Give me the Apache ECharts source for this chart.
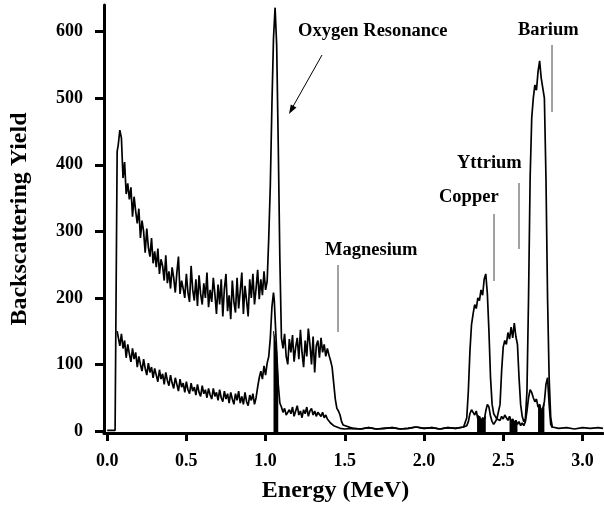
<!DOCTYPE html>
<html>
<head>
    <meta charset="utf-8">
    <title>Backscattering spectrum</title>
    <script src="https://cdn.jsdelivr.net/npm/echarts@6/dist/echarts.min.js"></script>
    <style>
        html, body { margin: 0; padding: 0; background: #fff; }
        #main { width: 604px; height: 512px; }
    </style>
</head>
<body>
<div id="main"></div>
<script>
    // [energy (MeV), yield]
    var upperSpectrum = [
        [0.00, 1], [0.05, 1], [0.06, 3], [0.063, 420], [0.07, 430], [0.08, 452], [0.09, 440],
        [0.10, 380], [0.11, 404], [0.12, 356], [0.13, 372], [0.14, 348], [0.15, 366], [0.16, 322],
        [0.17, 352], [0.18, 330], [0.19, 312], [0.20, 334], [0.21, 290], [0.22, 316], [0.23, 300],
        [0.24, 268], [0.25, 304], [0.26, 276], [0.27, 262], [0.28, 290], [0.29, 252], [0.30, 270],
        [0.31, 246], [0.32, 274], [0.33, 236], [0.34, 258], [0.35, 248], [0.36, 226], [0.37, 264],
        [0.38, 222], [0.39, 240], [0.40, 214], [0.41, 246], [0.42, 230], [0.43, 208], [0.44, 238],
        [0.45, 262], [0.46, 206], [0.47, 226], [0.48, 214], [0.49, 200], [0.50, 236], [0.51, 208],
        [0.52, 194], [0.53, 248], [0.54, 212], [0.55, 196], [0.56, 228], [0.57, 188], [0.58, 234],
        [0.59, 206], [0.60, 190], [0.61, 222], [0.62, 200], [0.63, 238], [0.64, 186], [0.65, 212],
        [0.66, 194], [0.67, 230], [0.68, 206], [0.69, 176], [0.70, 220], [0.71, 190], [0.72, 228],
        [0.73, 172], [0.74, 214], [0.75, 236], [0.76, 180], [0.77, 204], [0.78, 168], [0.79, 226],
        [0.80, 194], [0.81, 178], [0.82, 230], [0.83, 184], [0.84, 210], [0.85, 238], [0.86, 176],
        [0.87, 218], [0.88, 196], [0.89, 172], [0.90, 228], [0.91, 200], [0.92, 236], [0.93, 190],
        [0.94, 214], [0.95, 242], [0.96, 198], [0.97, 228], [0.98, 204], [0.99, 240], [1.00, 212],
        [1.01, 225], [1.02, 290], [1.03, 370], [1.04, 490], [1.05, 590], [1.06, 636], [1.07, 580],
        [1.08, 430], [1.09, 260], [1.10, 140], [1.11, 124], [1.12, 146], [1.13, 112], [1.14, 100],
        [1.15, 138], [1.16, 118], [1.17, 144], [1.18, 104], [1.19, 126], [1.20, 140], [1.21, 108],
        [1.22, 152], [1.23, 118], [1.24, 96], [1.25, 136], [1.26, 112], [1.27, 154], [1.28, 130],
        [1.29, 100], [1.30, 142], [1.31, 88], [1.32, 128], [1.33, 136], [1.34, 110], [1.35, 140],
        [1.36, 118], [1.37, 130], [1.38, 112], [1.39, 124], [1.40, 114], [1.41, 106], [1.42, 96],
        [1.43, 72], [1.44, 48], [1.45, 34], [1.46, 30], [1.47, 24], [1.48, 14], [1.49, 9], [1.50, 6],
        [1.55, 4], [1.60, 3], [1.65, 5], [1.70, 3], [1.75, 4], [1.80, 5], [1.85, 3], [1.90, 4],
        [1.95, 6], [2.00, 4], [2.05, 5], [2.10, 3], [2.15, 5], [2.20, 4], [2.25, 6],
        [2.26, 8], [2.27, 20], [2.28, 60], [2.29, 120], [2.30, 160], [2.31, 176], [2.32, 190],
        [2.33, 184], [2.34, 200], [2.35, 196], [2.36, 212], [2.37, 204], [2.38, 228], [2.39, 236],
        [2.40, 206], [2.41, 150], [2.42, 80], [2.43, 40], [2.44, 26], [2.45, 22], [2.46, 18],
        [2.47, 20], [2.48, 40], [2.49, 90], [2.50, 126], [2.51, 136], [2.52, 130], [2.53, 148],
        [2.54, 138], [2.55, 156], [2.56, 140], [2.57, 162], [2.58, 142], [2.59, 130], [2.60, 80],
        [2.61, 40], [2.62, 22], [2.63, 14], [2.64, 18], [2.65, 60], [2.66, 200], [2.67, 380],
        [2.68, 470], [2.69, 500], [2.70, 520], [2.71, 512], [2.72, 540], [2.73, 556], [2.74, 530],
        [2.75, 530], [2.76, 500], [2.77, 380], [2.78, 200], [2.79, 80], [2.80, 20], [2.81, 6],
        [2.85, 4], [2.90, 5], [2.95, 3], [3.00, 5], [3.05, 4], [3.10, 5], [3.13, 4]
    ];

    var lowerSpectrum = [
        [0.063, 150], [0.07, 150], [0.08, 128], [0.09, 146], [0.10, 124], [0.11, 136], [0.12, 110],
        [0.13, 130], [0.14, 116], [0.15, 104], [0.16, 124], [0.17, 108], [0.18, 118], [0.19, 96],
        [0.20, 112], [0.21, 100], [0.22, 90], [0.23, 108], [0.24, 94], [0.25, 84], [0.26, 102],
        [0.27, 88], [0.28, 96], [0.29, 80], [0.30, 94], [0.31, 84], [0.32, 74], [0.33, 92],
        [0.34, 78], [0.35, 86], [0.36, 70], [0.37, 88], [0.38, 76], [0.39, 68], [0.40, 84],
        [0.41, 72], [0.42, 64], [0.43, 80], [0.44, 70], [0.45, 60], [0.46, 78], [0.47, 66],
        [0.48, 72], [0.49, 58], [0.50, 74], [0.51, 62], [0.52, 56], [0.53, 72], [0.54, 60],
        [0.55, 66], [0.56, 54], [0.57, 70], [0.58, 58], [0.59, 52], [0.60, 68], [0.61, 56],
        [0.62, 62], [0.63, 50], [0.64, 64], [0.65, 54], [0.66, 48], [0.67, 64], [0.68, 52],
        [0.69, 58], [0.70, 46], [0.71, 62], [0.72, 50], [0.73, 44], [0.74, 60], [0.75, 48],
        [0.76, 56], [0.77, 42], [0.78, 58], [0.79, 48], [0.80, 40], [0.81, 56], [0.82, 46],
        [0.83, 60], [0.84, 42], [0.85, 52], [0.86, 40], [0.87, 58], [0.88, 44], [0.89, 38],
        [0.90, 54], [0.91, 46], [0.92, 56], [0.93, 40], [0.94, 50], [0.95, 66], [0.96, 80],
        [0.97, 90], [0.98, 78], [0.99, 98], [1.00, 84], [1.01, 102], [1.02, 112], [1.03, 140],
        [1.04, 186], [1.05, 208], [1.055, 196], [1.06, 170], [1.07, 120], [1.08, 70], [1.09, 42],
        [1.10, 36], [1.11, 28], [1.12, 34], [1.13, 24], [1.14, 22], [1.15, 32], [1.16, 26],
        [1.17, 36], [1.18, 22], [1.19, 30], [1.20, 38], [1.21, 24], [1.22, 30], [1.23, 20],
        [1.24, 32], [1.25, 26], [1.26, 36], [1.27, 22], [1.28, 30], [1.29, 34], [1.30, 24],
        [1.31, 30], [1.32, 22], [1.33, 28], [1.34, 26], [1.35, 22], [1.36, 28], [1.37, 20],
        [1.38, 24], [1.39, 18], [1.40, 16], [1.41, 12], [1.42, 14], [1.43, 8], [1.44, 10],
        [1.45, 6], [1.46, 8], [1.47, 4], [1.48, 6], [1.50, 3],
        [1.55, 4], [1.60, 3], [1.65, 5], [1.70, 3], [1.75, 4], [1.80, 5], [1.85, 3], [1.90, 4],
        [1.95, 6], [2.00, 4], [2.05, 5], [2.10, 3], [2.15, 5], [2.20, 4], [2.25, 6],
        [2.27, 8], [2.28, 14], [2.29, 26], [2.30, 32], [2.31, 28], [2.32, 24], [2.33, 30],
        [2.34, 18], [2.35, 22], [2.36, 14], [2.37, 20], [2.38, 16], [2.39, 30], [2.40, 40],
        [2.41, 36], [2.42, 22], [2.43, 14], [2.44, 10], [2.45, 12], [2.46, 18], [2.47, 20],
        [2.48, 16], [2.49, 22], [2.50, 18], [2.51, 24], [2.52, 20], [2.53, 16], [2.54, 22],
        [2.55, 14], [2.56, 18], [2.57, 12], [2.58, 16], [2.59, 10], [2.60, 14], [2.61, 8],
        [2.62, 12], [2.63, 8], [2.64, 14], [2.65, 30], [2.66, 50], [2.67, 62], [2.68, 58],
        [2.69, 50], [2.70, 44], [2.71, 48], [2.72, 36], [2.73, 40], [2.74, 30], [2.75, 34],
        [2.76, 44], [2.77, 70], [2.78, 80], [2.79, 40], [2.80, 10], [2.81, 5]
    ];

    // solid black patches under the lower spectrum
    var filledPeaks = [
        [1.05, 150], [1.06, 150], [1.07, 120], [1.08, 70], null,
        [2.335, 24], [2.35, 22], [2.36, 14], [2.37, 20], [2.38, 16], [2.39, 22], null,
        [2.54, 22], [2.55, 14], [2.56, 18], [2.57, 12], [2.58, 16], [2.59, 10], null,
        [2.72, 36], [2.73, 40], [2.74, 30], [2.75, 34], [2.76, 40]
    ];

    var xTicks = [0, 0.5, 1.0, 1.5, 2.0, 2.5, 3.0];
    var yTicks = [0, 100, 200, 300, 400, 500, 600];

    var serif = 'Liberation Serif';
    var chart = echarts.init(document.getElementById('main'));

    function note(text, x, y) {
        return {
            type: 'text', left: x, top: y - 11,
            style: { text: text, font: 'bold 18.5px "' + serif + '"', fill: '#000' }
        };
    }
    function tickLine(x, y1, y2) {
        return {
            type: 'line', shape: { x1: x, y1: y1, x2: x, y2: y2 },
            style: { stroke: '#444', lineWidth: 1 }
        };
    }

    var option = {
        animation: false,
        backgroundColor: '#fff',
        grid: { left: 104, right: 1, top: 5, bottom: 79 },
        xAxis: {
            type: 'value',
            min: -0.02,
            max: 3.13,
            name: 'Energy (MeV)',
            nameLocation: 'middle',
            nameGap: 46,
            nameTextStyle: { fontFamily: serif, fontWeight: 'bold', fontSize: 24, color: '#000', padding: [0, 36, 0, 0] },
            axisLine: { onZero: false, lineStyle: { color: '#000', width: 3 } },
            axisTick: { customValues: xTicks, length: 8, lineStyle: { color: '#000', width: 3 } },
            axisLabel: {
                customValues: xTicks, margin: 19,
                fontFamily: serif, fontWeight: 'bold', fontSize: 18, color: '#000',
                formatter: function (v) { return v.toFixed(1); }
            },
            splitLine: { show: false }
        },
        yAxis: {
            type: 'value',
            min: -3,
            max: 640,
            name: 'Backscattering Yield',
            nameLocation: 'middle',
            nameGap: 72,
            nameTextStyle: { fontFamily: serif, fontWeight: 'bold', fontSize: 24, color: '#000' },
            axisLine: { show: true, onZero: false, lineStyle: { color: '#000', width: 3 } },
            axisTick: { show: true, customValues: yTicks, length: 9, lineStyle: { color: '#000', width: 3 } },
            axisLabel: {
                customValues: yTicks, margin: 21,
                fontFamily: serif, fontWeight: 'bold', fontSize: 18, color: '#000'
            },
            splitLine: { show: false }
        },
        series: [
            {
                type: 'line', data: upperSpectrum, showSymbol: false,
                lineStyle: { color: '#000', width: 1.7 }
            },
            {
                type: 'line', data: lowerSpectrum, showSymbol: false,
                lineStyle: { color: '#000', width: 1.7 }
            },
            {
                type: 'line', data: filledPeaks, showSymbol: false, connectNulls: false,
                lineStyle: { color: '#000', width: 1 },
                areaStyle: { color: '#000', opacity: 1, origin: 'start' }
            }
        ],
        graphic: [
            note('Oxygen Resonance', 298, 33),
            {
                type: 'line', shape: { x1: 322, y1: 55, x2: 291, y2: 110 },
                style: { stroke: '#000', lineWidth: 1 }
            },
            {
                type: 'polygon', shape: { points: [[289, 114], [296.5, 107.5], [290.8, 104.5]] },
                style: { fill: '#000' }
            },
            note('Magnesium', 325, 252),
            tickLine(338, 265, 332),
            note('Copper', 439, 199),
            tickLine(494, 214, 281),
            note('Yttrium', 457, 165),
            tickLine(519, 183, 249),
            note('Barium', 518, 32),
            tickLine(552, 45, 112)
        ]
    };

    option && chart.setOption(option);
</script>
</body>
</html>
